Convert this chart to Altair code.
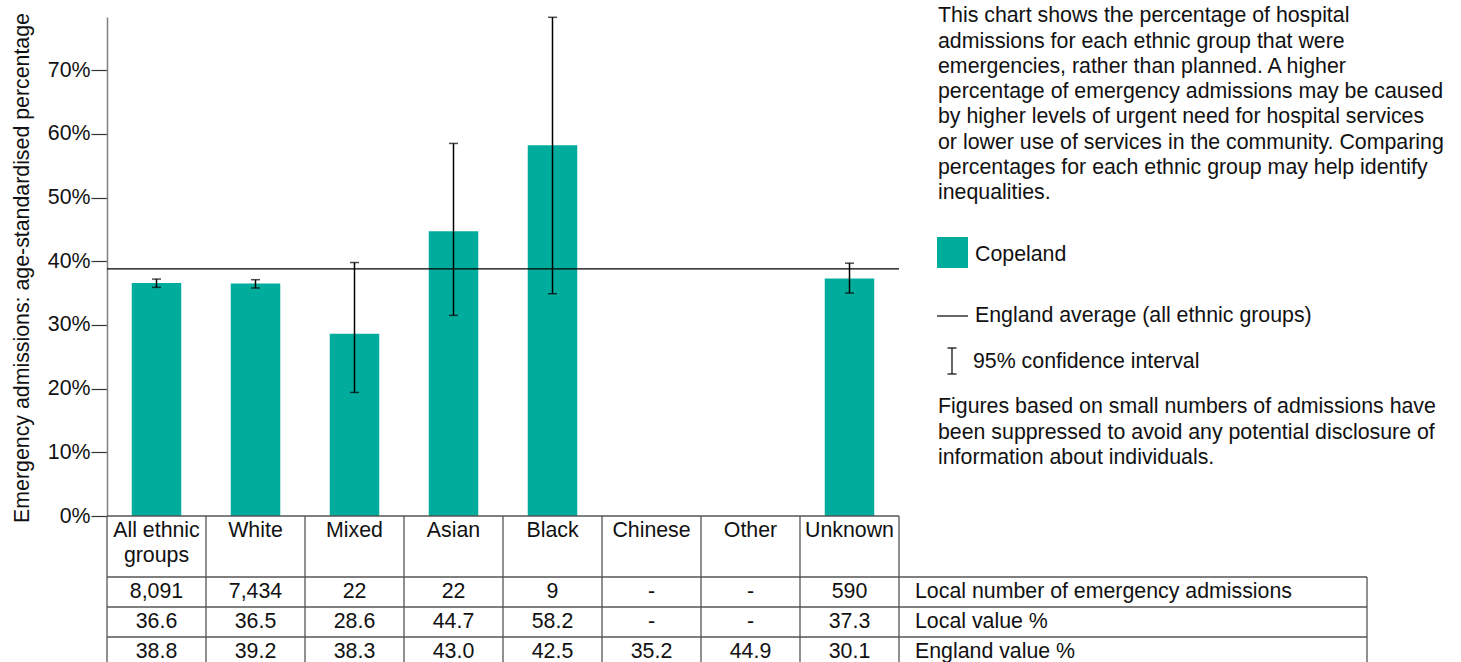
import altair as alt
import pandas as pd

# ---- data -----------------------------------------------------------------
groups = ["All ethnic groups", "White", "Mixed", "Asian", "Black",
          "Chinese", "Other", "Unknown"]
header_labels = ["All ethnic\ngroups", "White", "Mixed", "Asian", "Black",
                 "Chinese", "Other", "Unknown"]
local_pct = [36.6, 36.5, 28.6, 44.7, 58.2, None, None, 37.3]
ci_lower = [35.9, 35.8, 19.4, 31.5, 34.9, None, None, 35.0]
ci_upper = [37.2, 37.1, 39.8, 58.5, 78.3, None, None, 39.7]
local_counts = ["8,091", "7,434", "22", "22", "9", "-", "-", "590"]
england_pct = [38.8, 39.2, 38.3, 43.0, 42.5, 35.2, 44.9, 30.1]
row_labels = ["Local number of emergency admissions", "Local value %",
              "England value %"]
area_name = "Copeland"
england_average = england_pct[0]
y_ticks = [0, 10, 20, 30, 40, 50, 60, 70]
y_max = 78.35

y_title = "Emergency admissions: age-standardised percentage"
description = [
    "This chart shows the percentage of hospital",
    "admissions for each ethnic group that were",
    "emergencies, rather than planned. A higher",
    "percentage of emergency admissions may be caused",
    "by higher levels of urgent need for hospital services",
    "or lower use of services in the community. Comparing",
    "percentages for each ethnic group may help identify",
    "inequalities.",
]
footnote = [
    "Figures based on small numbers of admissions have",
    "been suppressed to avoid any potential disclosure of",
    "information about individuals.",
]

# ---- styling ----------------------------------------------------------------
FONT = "Liberation Sans"
FS = 21.33
TEAL = "#00AD9D"
GRID = "#555555"
TXT = "#111111"
W, H = 792, 499           # plot area
TABLE_RIGHT = 1260        # right edge of the row-label column
LINE_H = 25.3

def fmt(v):
    return "-" if v is None else f"{v:.1f}"

df = pd.DataFrame({
    "group": groups,
    "header": header_labels,
    "local": local_pct,
    "lo": ci_lower,
    "hi": ci_upper,
    "n_txt": local_counts,
    "local_txt": [fmt(v) for v in local_pct],
    "eng_txt": [fmt(v) for v in england_pct],
})
avg_df = pd.DataFrame({"avg": [england_average]})
labels_df = pd.DataFrame({"label": row_labels})
one = pd.DataFrame({"k": [0]})

x_scale = alt.Scale(type="band", domain=groups, paddingInner=0, paddingOuter=0)
y_scale = alt.Scale(domain=[0, y_max], nice=False, zero=True)
y_axis = alt.Axis(
    values=y_ticks, labelExpr="datum.value + '%'", grid=False,
    tickSize=16, tickColor="#333333", tickWidth=1.2,
    domainColor="#808080", domainWidth=1.5,
    labelFont=FONT, labelFontSize=FS, labelColor=TXT, labelPadding=1,
    titleFont=FONT, titleFontSize=FS, titleFontWeight="normal",
    titleColor=TXT, titleAngle=-90, titleX=-79, titleY=H / 2 + 1,
    titleAlign="center", titleBaseline="alphabetic",
)

def X(**kw):
    return alt.X("group:N", scale=x_scale, axis=None, **kw)

def Y(field):
    return alt.Y(field, scale=y_scale, axis=y_axis, title=y_title)

base = alt.Chart(df)

bars = base.mark_bar(color=TEAL, width=alt.RelativeBandSize(0.5)).encode(
    x=X(), y=Y("local:Q"))

err = base.mark_rule(color="#000000", strokeWidth=1.5).encode(
    x=X(), y=Y("lo:Q"), y2="hi:Q")
cap_lo = base.mark_tick(color="#000000", orient="horizontal", size=9,
                        thickness=1.5).encode(x=X(), y=Y("lo:Q"))
cap_hi = base.mark_tick(color="#000000", orient="horizontal", size=9,
                        thickness=1.5).encode(x=X(), y=Y("hi:Q"))

avg_line = alt.Chart(avg_df).mark_rule(color="#000000", strokeWidth=1.3).encode(
    y=Y("avg:Q"))

# ---- table under the chart --------------------------------------------------
txt_kw = dict(font=FONT, fontSize=FS, color=TXT)

header = base.mark_text(baseline="alphabetic", lineBreak="\n",
                        lineHeight=LINE_H, **txt_kw).encode(
    x=X(), y=alt.value(H + 21), text="header:N")
row_n = base.mark_text(baseline="alphabetic", **txt_kw).encode(
    x=X(), y=alt.value(581.3), text="n_txt:N")
row_local = base.mark_text(baseline="alphabetic", **txt_kw).encode(
    x=X(), y=alt.value(611.3), text="local_txt:N")
row_eng = base.mark_text(baseline="alphabetic", **txt_kw).encode(
    x=X(), y=alt.value(641.3), text="eng_txt:N")

row_label_layers = [
    alt.Chart(labels_df.iloc[[i]]).mark_text(
        align="left", baseline="alphabetic", **txt_kw).encode(
        x=alt.value(808), y=alt.value(yy), text="label:N")
    for i, yy in enumerate([581.3, 611.3, 641.3])
]

grid_kw = dict(color=GRID, strokeWidth=1.3)
col_lines = base.mark_rule(**grid_kw).encode(
    x=X(bandPosition=0), y=alt.value(H), y2=alt.value(660))
col_right = alt.Chart(one).mark_rule(**grid_kw).encode(
    x=alt.value(W), y=alt.value(H), y2=alt.value(660))
label_right = alt.Chart(one).mark_rule(**grid_kw).encode(
    x=alt.value(TABLE_RIGHT), y=alt.value(560), y2=alt.value(660))
table_top = alt.Chart(one).mark_rule(**grid_kw).encode(
    x=alt.value(0), x2=alt.value(W), y=alt.value(H))
row_lines = [
    alt.Chart(one).mark_rule(**grid_kw).encode(
        x=alt.value(0), x2=alt.value(TABLE_RIGHT), y=alt.value(yy))
    for yy in (560, 590, 620)
]

# ---- notes and key on the right --------------------------------------------
desc = alt.Chart(one).mark_text(
    text=description, align="left", baseline="alphabetic",
    lineHeight=LINE_H, **txt_kw).encode(x=alt.value(831), y=alt.value(5.3))

key_box = alt.Chart(one).mark_rect(color=TEAL).encode(
    x=alt.value(830), x2=alt.value(861), y=alt.value(220), y2=alt.value(251))
key_box_txt = alt.Chart(one).mark_text(
    text=area_name, align="left", baseline="alphabetic", **txt_kw).encode(
    x=alt.value(868), y=alt.value(243.7))

key_line = alt.Chart(one).mark_rule(color="#000000", strokeWidth=1.2).encode(
    x=alt.value(830), x2=alt.value(861), y=alt.value(299))
key_line_txt = alt.Chart(one).mark_text(
    text="England average (all ethnic groups)", align="left",
    baseline="alphabetic", **txt_kw).encode(x=alt.value(868), y=alt.value(304.5))

key_ci = alt.Chart(one).mark_rule(color="#000000", strokeWidth=1.2).encode(
    x=alt.value(845), y=alt.value(331), y2=alt.value(357))
key_ci_top = alt.Chart(one).mark_rule(color="#000000", strokeWidth=1.2).encode(
    x=alt.value(840.5), x2=alt.value(849.5), y=alt.value(331))
key_ci_bot = alt.Chart(one).mark_rule(color="#000000", strokeWidth=1.2).encode(
    x=alt.value(840.5), x2=alt.value(849.5), y=alt.value(357))
key_ci_txt = alt.Chart(one).mark_text(
    text="95% confidence interval", align="left", baseline="alphabetic",
    **txt_kw).encode(x=alt.value(866), y=alt.value(350.7))

foot = alt.Chart(one).mark_text(
    text=footnote, align="left", baseline="alphabetic",
    lineHeight=LINE_H, **txt_kw).encode(x=alt.value(831), y=alt.value(396.3))

chart = alt.layer(
    bars, avg_line, err, cap_lo, cap_hi,
    col_lines, col_right, label_right, table_top, *row_lines,
    header, row_n, row_local, row_eng, *row_label_layers,
    desc, key_box, key_box_txt, key_line, key_line_txt,
    key_ci, key_ci_top, key_ci_bot, key_ci_txt, foot,
).properties(
    width=W, height=H,
    background="#ffffff",
    autosize=alt.AutoSizeParams(type="none"),
    padding={"left": 107, "top": 17, "right": 1461 - 107 - W,
             "bottom": 662 - 17 - H},
).configure_view(stroke=None)

chart.save("out.html", embed_options={"renderer": "svg", "actions": False})
